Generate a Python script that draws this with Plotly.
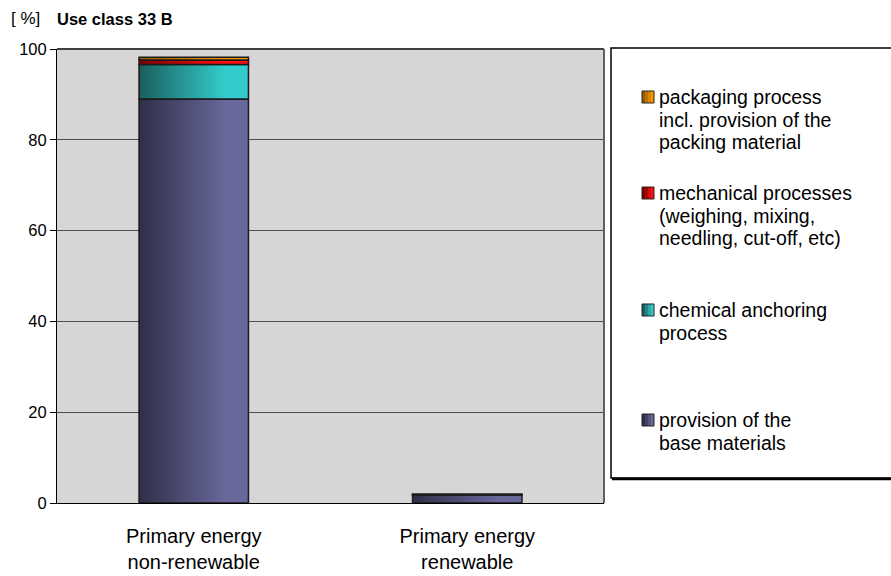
import plotly.graph_objects as go
import numpy as np

categories = ["Primary energy<br>non-renewable", "Primary energy<br>renewable"]
series_names = [
    "provision of the<br>base materials",
    "chemical anchoring<br>process",
    "mechanical processes<br>(weighing, mixing,<br>needling, cut-off, etc)",
    "packaging process<br>incl. provision of the<br>packing material",
]
base_materials = [89.0, 1.8]
chemical_anchoring = [7.6, 0.05]
mechanical = [1.0, 0.03]
packaging = [0.6, 0.02]
y_ticks = [0, 20, 40, 60, 80, 100]

values = [base_materials, chemical_anchoring, mechanical, packaging]
dark_cols = [(0x30, 0x30, 0x4a), (0x1c, 0x60, 0x60), (0x80, 0x00, 0x00), (0x99, 0x5c, 0x00)]
light_cols = [(0x68, 0x68, 0x9c), (0x33, 0xcc, 0xcc), (0xff, 0x10, 0x10), (0xff, 0x99, 0x00)]

W = 0.40
N = 30
fig = go.Figure()


def grad(s, t):
    t = min(1.0, t / 0.8)
    return "rgb(%d,%d,%d)" % tuple(int(round(d + (l - d) * t)) for d, l in zip(dark_cols[s], light_cols[s]))


cum = np.zeros(len(categories))
for s, vals in enumerate(values):
    vals = np.array(vals)
    for j in range(N):
        fig.add_trace(go.Bar(
            x=categories, y=vals, base=cum,
            width=W - j * W / N, offset=-W / 2 + j * W / N,
            marker=dict(color=grad(s, j / (N - 1)), line=dict(width=0)),
            showlegend=False, hoverinfo="skip",
        ))
    fig.add_trace(go.Bar(
        x=categories, y=vals, base=cum, width=W, offset=-W / 2,
        marker=dict(color="rgba(0,0,0,0)", line=dict(color="#1a1a1a", width=1.5)),
        showlegend=False, name=series_names[s].replace("<br>", " "),
    ))
    cum = cum + vals

fig.update_layout(
    width=891, height=576,
    margin=dict(l=57, r=287, t=49, b=73),
    paper_bgcolor="white",
    plot_bgcolor="#d6d6d6",
    barmode="overlay",
    font=dict(family="Liberation Sans, Arial, sans-serif", size=17, color="black"),
    showlegend=False,
    xaxis=dict(
        type="category", showgrid=False, showline=True, linecolor="black", linewidth=1,
        ticks="", tickfont=dict(size=20), ticklabelstandoff=15, automargin=False,
    ),
    yaxis=dict(
        range=[0, 100], tickvals=y_ticks, showgrid=True, gridcolor="#505050", gridwidth=1,
        showline=True, linecolor="black", linewidth=1, ticks="outside", ticklen=6,
        tickcolor="black", tickfont=dict(size=16.5), zeroline=False, automargin=False,
    ),
)

# plot area border (top / right)
fig.add_shape(type="line", xref="paper", yref="paper", x0=0, x1=1, y0=1, y1=1,
              line=dict(color="#404040", width=2))
fig.add_shape(type="line", xref="paper", yref="paper", x0=1, x1=1, y0=0, y1=1,
              line=dict(color="#606060", width=2))

# pixel -> paper helpers
pw, ph = 891 - 57 - 287, 576 - 49 - 73


def px(x):
    return (x - 57) / pw


def py(y):
    return (503 - y) / ph


fig.add_shape(type="rect", xref="paper", yref="paper",
              x0=px(611), x1=px(893), y0=py(478), y1=py(48),
              line=dict(color="black", width=1.5), fillcolor="white", layer="below")
fig.add_shape(type="line", xref="paper", yref="paper", x0=px(612), x1=px(891),
              y0=py(479), y1=py(479), line=dict(color="black", width=2.5))

legend_y = [97, 193, 310, 420]
order = [3, 2, 1, 0]
line_h = 22.5
for k, s in enumerate(order):
    y = legend_y[k]
    for q in range(4):
        fig.add_shape(type="rect", xref="paper", yref="paper",
                      x0=px(642 + q * 3), x1=px(645 + q * 3), y0=py(y + 6), y1=py(y - 6),
                      line=dict(width=0), fillcolor=grad(s, q / 3.0 * 0.8))
    fig.add_shape(type="rect", xref="paper", yref="paper",
                  x0=px(642), x1=px(654), y0=py(y + 6), y1=py(y - 6),
                  line=dict(color="#222222", width=1), fillcolor="rgba(0,0,0,0)")
    for i, line in enumerate(series_names[s].split("<br>")):
        fig.add_annotation(xref="paper", yref="paper", x=px(657), y=py(y + i * line_h),
                           text=line, showarrow=False, xanchor="left", yanchor="middle",
                           align="left", font=dict(size=19.5))

fig.add_annotation(xref="paper", yref="paper", x=px(9), y=py(19), text="[ %]",
                   showarrow=False, xanchor="left", yanchor="middle", font=dict(size=17))
fig.add_annotation(xref="paper", yref="paper", x=px(55), y=py(19), text="<b>Use class 33 B</b>",
                   showarrow=False, xanchor="left", yanchor="middle", font=dict(size=16.5))

fig.write_html("out.html", config={"displayModeBar": False},
               post_script="document.body.style.margin='0';")
